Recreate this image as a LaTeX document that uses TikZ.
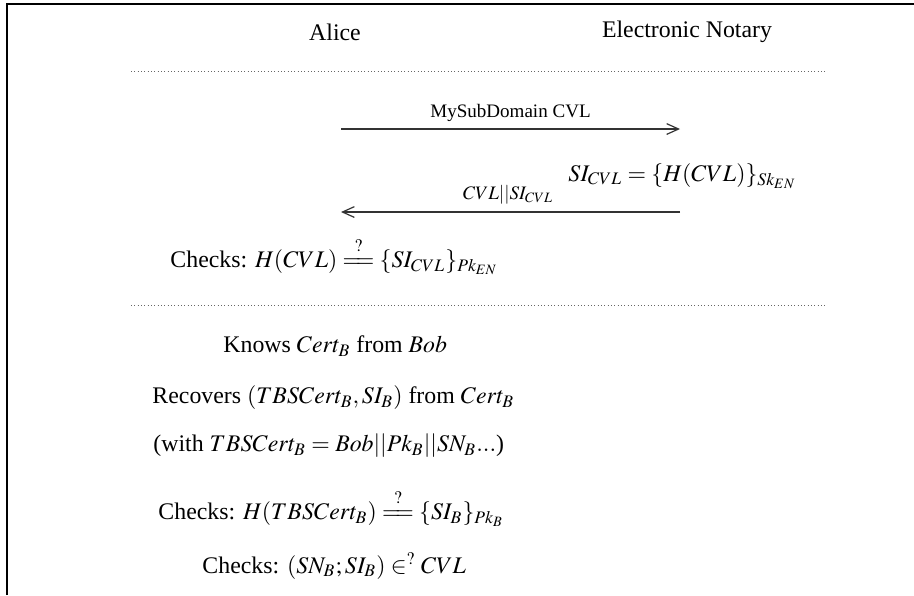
\documentclass[tikz,border=0pt]{standalone}
\usepackage{amsmath,amssymb}
\usepackage{mathptmx}
\usepackage{fontspec}
\setmainfont{Liberation Serif}
\usetikzlibrary{arrows.meta,positioning}
\newcommand{\qeq}{\mathrel{\overset{\raisebox{1.2pt}{$\scriptstyle ?$}}{=\!\!=}}}

\begin{document}
\begin{tikzpicture}[x=0.42pt,y=-0.42pt,
    txt/.style={inner sep=0pt,font=\normalsize},
    msg/.style={inner sep=0pt,font=\footnotesize},
    arr/.style={-{Straight Barb[length=5pt,width=4.5pt]},line width=0.5pt,draw=black!80},
    sep/.style={line width=0.4pt,draw=black!60,dash pattern=on 0.4pt off 1pt}]
    \useasboundingbox (0,0) rectangle (914,595);
    \draw[line width=0.9pt] (7,595) -- (7,4) -- (914,4);
    \node[txt] (al) at (335,32) {Alice};
    \node[txt] (en) at (687,32) {Electronic Notary};
    % first phase
    \coordinate (s1a) at (131,71); \coordinate (s1b) at (825,71);
    \draw[sep] (s1a) -- (s1b);
    \coordinate (m1a) at (341,129); \coordinate (m1b) at (680,129);
    \draw[arr] (m1a) -- node[msg,above=3pt] (m1) {MySubDomain CVL} (m1b);
    \node[txt,anchor=west] (sig) at (568,176) {$SI_{CVL}=\{H(CVL)\}_{Sk_{EN}}$};
    \coordinate (m2a) at (680,212); \coordinate (m2b) at (341,212);
    \draw[arr] (m2a) -- node[msg,above=3pt,xshift=-1pt] (m2) {$CVL||SI_{CVL}$} (m2b);
    \node[txt,anchor=west] (c1) at (170,256) {Checks: $H(CVL)\qeq\{SI_{CVL}\}_{Pk_{EN}}$};
    % second phase
    \coordinate (s2a) at (131,305); \coordinate (s2b) at (825,305);
    \draw[sep] (s2a) -- (s2b);
    \node[txt,anchor=west] (k) at (223,346) {Knows $Cert_B$ from $Bob$};
    \node[txt,anchor=west] (r) at (152,398) {Recovers $(TBSCert_B,SI_B)$ from $Cert_B$};
    \node[txt,anchor=west] (w) at (153,446) {(with $TBSCert_B=Bob||Pk_B||SN_B...$)};
    \node[txt,anchor=west] (c2) at (158,508) {Checks: $H(TBSCert_B)\qeq\{SI_B\}_{Pk_B}$};
    \node[txt,anchor=west] (c3) at (202,566) {Checks: $(SN_B;SI_B)\in^?CVL$};
  \end{tikzpicture}
\end{document}
